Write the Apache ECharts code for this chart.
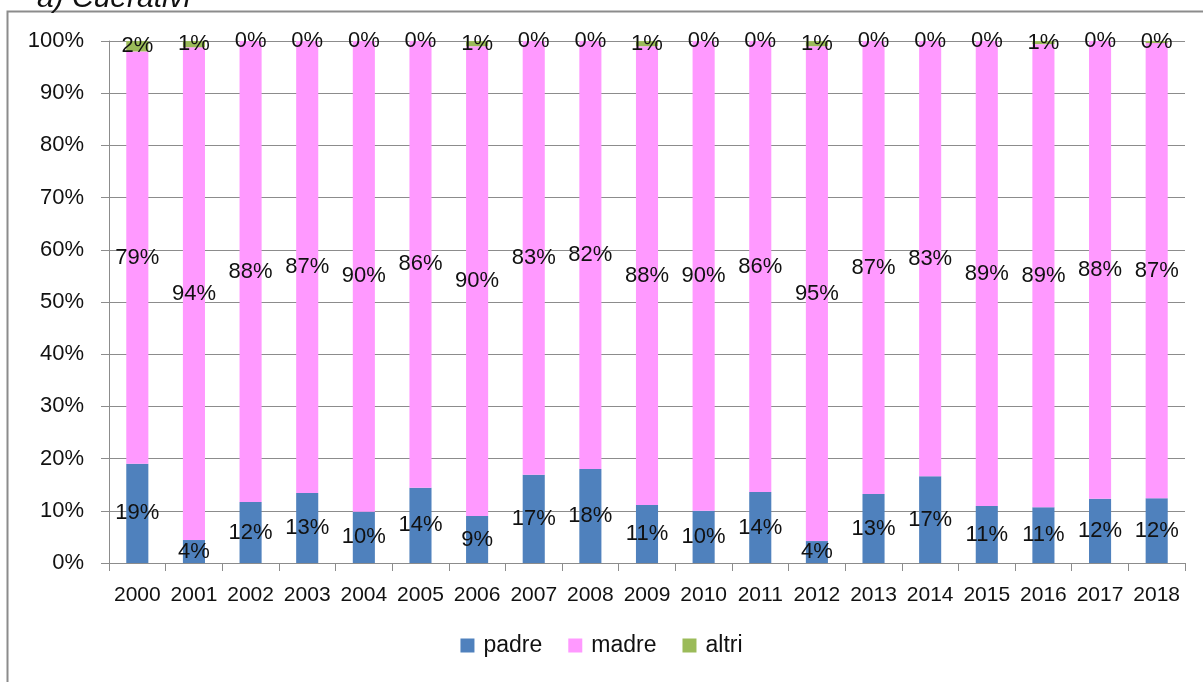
<!DOCTYPE html>
<html>
<head>
<meta charset="utf-8">
<script src="https://cdn.jsdelivr.net/npm/echarts@6/dist/echarts.min.js"></script>
<style>
  html, body { margin: 0; padding: 0; background: #fff; }
  #chart { width: 1203px; height: 682px; }
</style>
</head>
<body>
<div id="chart"></div>
<script>
const years = ['2000', '2001', '2002', '2003', '2004', '2005', '2006', '2007', '2008', '2009',
  '2010', '2011', '2012', '2013', '2014', '2015', '2016', '2017', '2018'];
const padre = [19.0, 4.4, 11.7, 13.4, 9.8, 14.4, 9.0, 16.9, 18.0, 11.1, 10.0, 13.6, 4.2, 13.2, 16.6, 10.9, 10.7, 12.3, 12.4];
const madre = [79.0, 94.4, 88.3, 86.6, 90.2, 85.6, 90.0, 83.1, 82.0, 87.9, 90.0, 86.4, 94.8, 86.8, 83.4, 89.1, 88.7, 87.7, 87.2];
const altri = [2.0, 1.2, 0.0, 0.0, 0.0, 0.0, 1.0, 0.0, 0.0, 1.0, 0.0, 0.0, 1.0, 0.0, 0.0, 0.0, 0.6, 0.0, 0.4];
const yTicks = [0, 10, 20, 30, 40, 50, 60, 70, 80, 90, 100];

const FONT = '"Liberation Sans", Arial, sans-serif';
const TXT = '#111';
const chart = echarts.init(document.getElementById('chart'));

function seriesOf(name, data, color) {
  return {
    name,
    type: 'bar',
    stack: 'tot',
    data,
    barWidth: '39%',
    itemStyle: { color },
    label: {
      show: true,
      position: 'inside',
      color: TXT,
      fontFamily: FONT,
      fontSize: 22,
      formatter: p => Math.round(p.value) + '%'
    }
  };
}

chart.setOption({
  animation: false,
  title: {
    text: 'a) Cuerativi',
    left: 32,
    top: -21,
    textStyle: { fontFamily: FONT, fontSize: 30, fontStyle: 'italic', fontWeight: 'normal', color: TXT }
  },
  graphic: [{
    type: 'rect',
    shape: { x: 7.5, y: 11.5, width: 1220, height: 700 },
    style: { fill: 'none', stroke: '#8c8c8c', lineWidth: 2 },
    silent: true,
    z: -1
  }],
  legend: {
    bottom: 20,
    left: 'center',
    itemWidth: 14,
    itemHeight: 14,
    itemGap: 26,
    icon: 'rect',
    textStyle: { fontFamily: FONT, fontSize: 23, color: TXT, padding: [0, 0, 0, 4] },
    data: ['padre', 'madre', 'altri']
  },
  grid: { left: 109, right: 18, top: 41, height: 522 },
  xAxis: {
    type: 'category',
    data: years,
    axisLine: { lineStyle: { color: '#8c8c8c', width: 1 } },
    axisTick: { show: true, length: 8, lineStyle: { color: '#8c8c8c' } },
    axisLabel: { fontFamily: FONT, fontSize: 21, color: TXT, margin: 22, interval: 0 }
  },
  yAxis: {
    type: 'value',
    min: 0,
    max: 100,
    interval: 10,
    axisLine: { show: true, lineStyle: { color: '#8c8c8c' } },
    axisTick: { show: true, length: 8, lineStyle: { color: '#8c8c8c' } },
    splitLine: { lineStyle: { color: '#8c8c8c', width: 1 } },
    axisLabel: {
      fontFamily: FONT, fontSize: 22, color: TXT, margin: 25,
      formatter: v => (yTicks.includes(v) ? v + '%' : '')
    }
  },
  series: [
    seriesOf('padre', padre, '#4f81bd'),
    seriesOf('madre', madre, '#ff99ff'),
    seriesOf('altri', altri, '#9bbb59')
  ]
});
</script>
</body>
</html>
